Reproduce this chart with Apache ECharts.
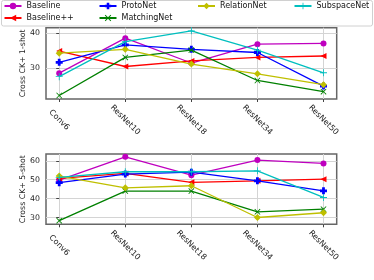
<!DOCTYPE html>
<html><head><meta charset="utf-8">
<script src="https://cdn.jsdelivr.net/npm/echarts@6/dist/echarts.min.js"></script>
<style>html,body{margin:0;padding:0;background:#fff}#c{width:374px;height:280px}</style>
</head><body><div id="c"></div>
<script>
const categories = ['Conv6', 'ResNet10', 'ResNet18', 'ResNet34', 'ResNet50'];
const seriesNames = ['Baseline', 'Baseline++', 'ProtoNet', 'MatchingNet', 'RelationNet', 'SubspaceNet'];
// 1-shot
const baseline1 = [28.6, 38.6, 31.5, 36.9, 37.1];
const baselinePP1 = [34.9, 30.5, 32.1, 33.1, 33.5];
const protoNet1 = [31.7, 36.7, 35.4, 34.5, 24.9];
const matchingNet1 = [22.2, 33.1, 35.2, 26.5, 23.3];
const relationNet1 = [34.3, 35.4, 31.2, 28.4, 25.3];
const subspaceNet1 = [27.6, 37.6, 40.7, 35.2, 28.7];
// 5-shot
const baseline5 = [49.8, 62.1, 52.4, 60.4, 58.6];
const baselinePP5 = [50.7, 53.3, 48.6, 49.4, 50.3];
const protoNet5 = [48.4, 53.0, 54.0, 49.4, 44.1];
const matchingNet5 = [28.3, 44.0, 44.0, 33.0, 34.4];
const relationNet5 = [51.9, 45.7, 46.8, 30.0, 32.5];
const subspaceNet5 = [51.2, 54.2, 54.2, 54.7, 40.6];
const yTicks1 = [30, 40];
const yTicks5 = [30, 40, 50, 60];

const colors = ['#bf00bf', '#ff0000', '#0000ff', '#008000', '#bfbf00', '#00bfbf'];
const symbols = [
  'circle',
  'path://M0,5 L10,0 L10,10 Z',
  'path://M3,0 H7 V3 H10 V7 H7 V10 H3 V7 H0 V3 H3 Z',
  'path://M0,1 L1,0 L5,4 L9,0 L10,1 L6,5 L10,9 L9,10 L5,6 L1,10 L0,9 L4,5 Z',
  'diamond',
  'path://M4.4,0 H5.6 V4.4 H10 V5.6 H5.6 V10 H4.4 V5.6 H0 V4.4 H4.4 Z'
];
const symSizes = [6, 6, 7, 6, 7, 7];
const data1 = [baseline1, baselinePP1, protoNet1, matchingNet1, relationNet1, subspaceNet1];
const data5 = [baseline5, baselinePP5, protoNet5, matchingNet5, relationNet5, subspaceNet5];

const FONT = 'DejaVu Sans';
function xAxis(gi) {
  return {
    type: 'value', gridIndex: gi, min: -0.2, max: 4.2,
    axisLine: { show: false },
    axisTick: { show: true, customValues: [0, 1, 2, 3, 4], length: 3, lineStyle: { color: '#444' } },
    axisLabel: { customValues: [0, 1, 2, 3, 4], formatter: v => categories[Math.round(v)] || '',
      rotate: -45, align: 'center', verticalAlign: 'middle', margin: 21,
      fontFamily: FONT, fontSize: 8, color: '#222' },
    splitLine: { show: true, lineStyle: { color: '#d4d4d4', width: 1 } }
  };
}
function yAxis(gi, min, max, ticks, name) {
  return {
    type: 'value', gridIndex: gi, min: min, max: max,
    name: name, nameLocation: 'middle', nameRotate: 90, nameGap: 19, nameMoveOverlap: false,
    nameTextStyle: { fontFamily: FONT, fontSize: 7.8, color: '#222' },
    axisLine: { show: false },
    axisTick: { show: true, customValues: ticks, length: 3, lineStyle: { color: '#444' } },
    axisLabel: { customValues: ticks, margin: 6, fontFamily: FONT, fontSize: 7.8, color: '#222' },
    splitLine: { show: true, lineStyle: { color: '#d4d4d4', width: 1 } }
  };
}
const series = [];
[data1, data5].forEach((set, gi) => {
  set.forEach((vals, i) => {
    series.push({
      name: seriesNames[i], type: 'line', xAxisIndex: gi, yAxisIndex: gi,
      data: vals.map((v, k) => [k, v]),
      symbol: symbols[i], symbolSize: symSizes[i], showSymbol: true,
      color: colors[i], lineStyle: { width: 1.3, color: colors[i] },
      itemStyle: { color: colors[i] }, animation: false, z: 2 + i
    });
  });
});
function legend(names, left) {
  return {
    data: names, orient: 'vertical', left: left, top: 2, padding: 0,
    itemWidth: 17, itemHeight: 8, itemGap: 4, z: 20,
    textStyle: { fontFamily: FONT, fontSize: 8, color: '#111', lineHeight: 8 },
    selectedMode: false
  };
}
const chart = echarts.init(document.getElementById('c'), null, { renderer: 'canvas' });
chart.setOption({
  animation: false,
  backgroundColor: '#fff',
  grid: [
    { left: 46, right: 37.3, top: 27.7, height: 71.3, show: true, borderColor: '#666', borderWidth: 1.5, backgroundColor: 'transparent' },
    { left: 46, right: 37.3, top: 154, height: 70.3, show: true, borderColor: '#666', borderWidth: 1.5, backgroundColor: 'transparent' }
  ],
  xAxis: [xAxis(0), xAxis(1)],
  yAxis: [yAxis(0, 21.2, 41.6, yTicks1, 'Cross CK+ 1-shot'), yAxis(1, 26.4, 63.6, yTicks5, 'Cross CK+ 5-shot')],
  legend: [
    legend(['Baseline', 'Baseline++'], 3.5),
    legend(['ProtoNet', 'MatchingNet'], 98.5),
    legend(['RelationNet'], 197),
    legend(['SubspaceNet'], 293.5)
  ],
  graphic: [{
    type: 'rect', shape: { x: 1.5, y: 0.5, width: 371, height: 25.5, r: 2 },
    style: { fill: '#fff', stroke: '#d0d0d0', lineWidth: 1 }, z: 1, silent: true
  }],
  series: series
});
</script></body></html>
